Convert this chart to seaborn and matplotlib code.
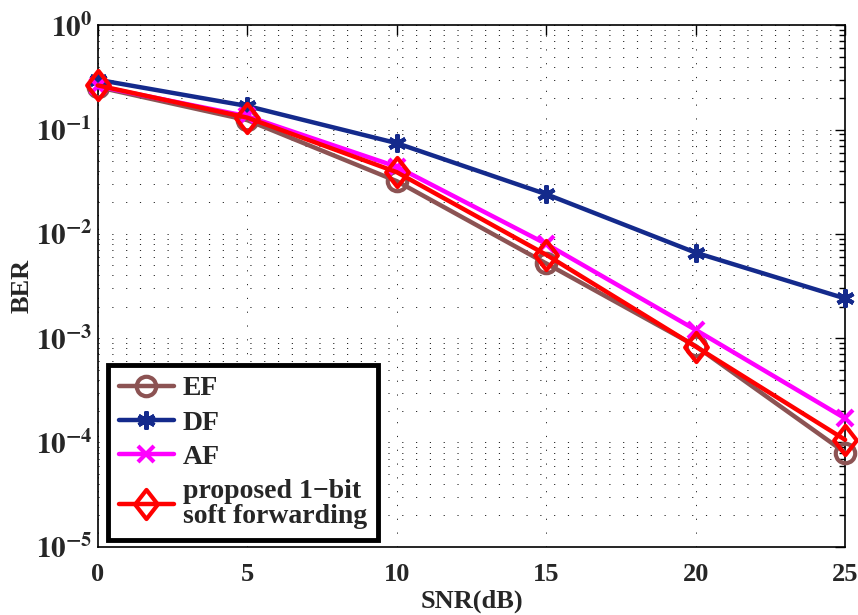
import numpy as np
import pandas as pd
import seaborn as sns
import matplotlib
matplotlib.use("Agg")
import matplotlib.pyplot as plt
from matplotlib.path import Path
from matplotlib.ticker import LogLocator, NullFormatter, FixedLocator

snr = [0, 5, 10, 15, 20, 25]
ber_ef = [0.255, 0.123, 0.032, 0.0052, 8.4e-4, 8.0e-5]
ber_df = [0.30, 0.168, 0.074, 0.024, 0.0066, 0.0024]
ber_af = [0.26, 0.134, 0.044, 0.0080, 0.0012, 1.7e-4]
ber_prop = [0.265, 0.130, 0.039, 0.0063, 8.3e-4, 1.06e-4]
labels = ["EF", "DF", "AF", "proposed 1\u2212bit\nsoft forwarding"]
x_ticks = [0, 5, 10, 15, 20, 25]

sns.set_theme(style="white")
plt.rcParams['font.family'] = ['Liberation Serif', 'DejaVu Serif']
plt.rcParams['mathtext.fontset'] = 'stix'
plt.rcParams['font.weight'] = 'bold'

fig = plt.figure(figsize=(8.58, 6.15), dpi=100)
ax = fig.add_axes([0.114, 0.111, 0.871, 0.848])

diamond = Path([(0, 1), (0.78, 0), (0, -1), (-0.78, 0), (0, 1)],
               [Path.MOVETO, Path.LINETO, Path.LINETO, Path.LINETO, Path.CLOSEPOLY])

series = [
    (ber_ef, "#8c5353", "o", 14, "none"),
    (ber_df, "#142a8c", (6, 2, 0), 13, None),
    (ber_af, "#ff00ff", "x", 12, None),
    (ber_prop, "#ff0000", diamond, 21, "none"),
]

for (vals, col, mk, ms, mfc), lab in zip(series, labels):
    df = pd.DataFrame({"SNR": snr, "BER": vals})
    kw = dict(marker=mk, markersize=ms, markeredgewidth=3, markeredgecolor=col)
    if mfc is not None:
        kw["markerfacecolor"] = "none"
    else:
        kw["markerfacecolor"] = col
    sns.lineplot(data=df, x="SNR", y="BER", ax=ax, color=col, linewidth=3.2,
                 label=lab, clip_on=False, zorder=3, **kw)

ax.set_yscale("log")
ax.set_xlim(0, 25)
ax.set_ylim(1e-5, 1)
ax.xaxis.set_major_locator(FixedLocator(x_ticks))
ax.set_xticklabels([str(t) for t in x_ticks], fontsize=19, fontweight="bold")
ax.yaxis.set_major_locator(LogLocator(base=10, numticks=10))
ax.yaxis.set_minor_locator(LogLocator(base=10, subs=np.arange(2, 10), numticks=20))
ax.yaxis.set_minor_formatter(NullFormatter())
ax.set_yticks([1e-5, 1e-4, 1e-3, 1e-2, 1e-1, 1])
ax.set_yticklabels([r"$\mathbf{10^{%d}}$" % e for e in range(-5, 1)], fontsize=21)

gkw = dict(linestyle=(0, (1.2, 13)), color="#222222", linewidth=0.7)
ax.grid(True, which="major", axis="both", **gkw)
ax.grid(True, which="minor", axis="y", **gkw)

ax.tick_params(axis="both", which="both", direction="in", top=True, right=True,
               color="black")
ax.tick_params(axis="both", which="major", length=7, width=1)
ax.tick_params(axis="y", which="minor", length=4, width=1)
ax.tick_params(axis="x", pad=12)
ax.tick_params(axis="y", pad=4)
for s in ax.spines.values():
    s.set_color("black")
    s.set_linewidth(1.2)

ax.set_xlabel("SNR(dB)", fontsize=19, fontweight="bold", labelpad=2)
ax.set_ylabel("BER", fontsize=19, fontweight="bold")
ax.yaxis.set_label_coords(-0.086, 0.5)

leg = ax.legend(loc="lower left", fontsize=20, frameon=True, fancybox=False,
                borderpad=0.4, labelspacing=0.32, handlelength=2.0, handletextpad=0.3,
                borderaxespad=0, bbox_to_anchor=(0.013, 0.013))
frame = leg.get_frame()
frame.set_edgecolor("black")
frame.set_linewidth(3.5)
frame.set_facecolor("white")
frame.set_alpha(1)
for t in leg.get_texts():
    t.set_fontweight("bold")
    t.set_linespacing(1.0)

fig.savefig("out.png", dpi=100)
